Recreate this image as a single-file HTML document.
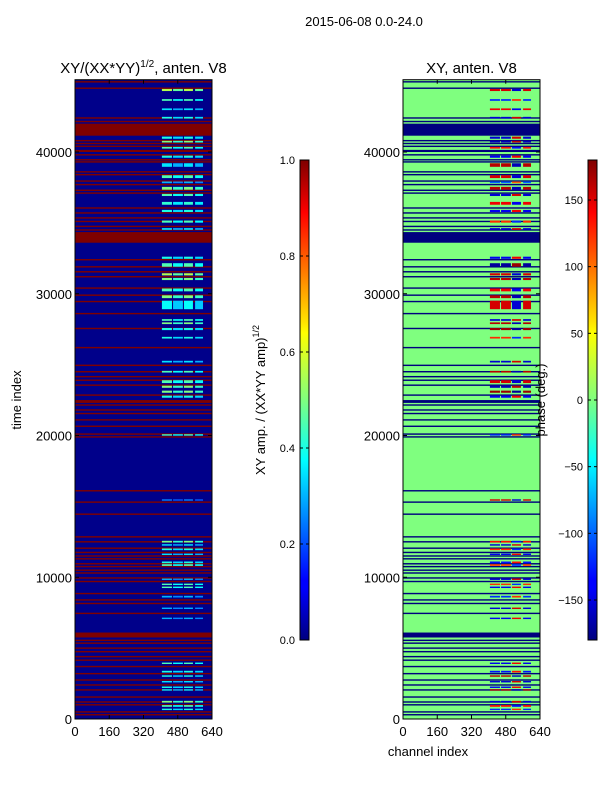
<!DOCTYPE html>
<html><head><meta charset="utf-8">
<style>
body{margin:0;background:#fff;}
svg text{font-family:"Liberation Sans",sans-serif;fill:#000;}
</style></head>
<body>
<svg id="fig" width="600" height="800" xmlns="http://www.w3.org/2000/svg" style="position:absolute;left:0;top:0">
<text x="364" y="26" text-anchor="middle" style="font-size:13px">2015-06-08 0.0-24.0</text>
<g id="left"></g>
<g id="right"></g>
<defs>
<linearGradient id="jet" x1="0" y1="1" x2="0" y2="0">
<stop offset="0" stop-color="#00007f"/><stop offset="0.11" stop-color="#0000ff"/>
<stop offset="0.125" stop-color="#0000ff"/><stop offset="0.34" stop-color="#00dcff"/>
<stop offset="0.375" stop-color="#00ffff"/><stop offset="0.5" stop-color="#7fff7f"/>
<stop offset="0.64" stop-color="#ffff00"/><stop offset="0.66" stop-color="#ffe600"/>
<stop offset="0.89" stop-color="#ff0000"/><stop offset="1" stop-color="#7f0000"/>
</linearGradient>
</defs>
<text x="0" y="0" transform="translate(265,400) rotate(-90)" text-anchor="middle" style="font-size:13px">XY amp. / (XX*YY amp)<tspan style="font-size:9px" dy="-6">1/2</tspan></text>
<text x="0" y="0" transform="translate(545,400) rotate(-90)" text-anchor="middle" style="font-size:13px">phase (deg.)</text>
<text x="0" y="0" transform="translate(21,400) rotate(-90)" text-anchor="middle" style="font-size:13px">time index</text>
<text x="428" y="756" text-anchor="middle" style="font-size:13px">channel index</text>
</svg>
<script>
const flagStart=[44900,44450,42350,42100,41150,40750,40550,40350,40000,39750,39400,39250,38550,38350,37900,37650,37250,37050,36000,35650,35300,35050,34700,34450,33600,32350,31850,31500,31150,30350,29850,29400,28550,27500,26150,24900,24450,24100,23850,23500,22800,22300,22100,21750,21500,21050,20600,20050,19850,16050,15250,14400,12800,12450,12000,11700,11450,11250,10900,10700,10450,10250,9900,9650,8800,8350,8100,7400,5750,5500,5300,4950,4700,4350,4100,3650,3150,2700,2350,2000,1500,1150,950,450,250];
const flagEnd=[45000,44550,42450,42200,42000,40850,40650,40450,40150,39850,39500,39350,38650,38450,38000,37750,37350,37150,36100,35750,35400,35150,34800,34550,34350,32450,31950,31600,31250,30450,29950,29500,28650,27600,26250,25000,24550,24200,23950,23600,22900,22500,22200,21850,21600,21150,20700,20150,19950,16150,15350,14500,12900,12550,12100,11800,11550,11350,11000,10800,10550,10350,10000,9750,8900,8450,8200,7500,6100,5600,5400,5050,4800,4450,4200,3750,3250,2800,2450,2100,1600,1250,1050,550,350];
const featT=[44375,43670,43015,42420,41010,40730,40300,39670,39080,38260,37860,37440,36970,36380,35840,35090,34570,32540,32030,31370,31040,30270,29790,29210,28150,27920,27510,26900,25210,24500,23800,23440,23090,22740,20040,15450,12510,12280,11970,11620,11050,10860,9860,9500,9290,8630,7810,7100,3930,3340,3030,2630,2240,2050,1220,920,680];
const featW=[150,120,120,120,150,120,120,150,250,200,120,200,150,200,150,150,120,150,250,150,150,200,200,600,120,120,150,120,120,120,200,150,150,150,100,100,120,100,120,100,120,120,100,100,100,120,100,100,100,120,100,100,100,100,120,120,100];
const featAmp=[0.55,0.45,0.35,0.4,0.4,0.5,0.45,0.4,0.35,0.45,0.3,0.5,0.45,0.42,0.4,0.45,0.35,0.4,0.45,0.55,0.5,0.45,0.5,0.38,0.45,0.5,0.4,0.4,0.35,0.45,0.45,0.5,0.5,0.4,0.45,0.25,0.5,0.35,0.4,0.35,0.4,0.45,0.3,0.45,0.45,0.3,0.3,0.3,0.45,0.4,0.4,0.35,0.4,0.35,0.5,0.45,0.4];
const featPhase=[150,-120,140,-150,-150,-160,130,-140,160,150,-100,160,-150,140,-140,120,-150,-140,-170,150,160,140,160,150,-150,160,170,120,-150,160,150,-160,170,-140,-120,150,130,-150,120,-140,-130,110,-150,120,-140,-120,-150,-140,-140,-130,160,-150,-140,160,-150,130,-120];
const chanBlocksStart=[406,458,509,561];
const chanBlocksEnd=[453,504,551,598];
const xTicks=[0,160,320,480,640];
const yTicks=[0,10000,20000,30000,40000];
const ampTicks=[0.0,0.2,0.4,0.6,0.8,1.0];
const phaseTicks=[-150,-100,-50,0,50,100,150];

const NS="http://www.w3.org/2000/svg";
function mk(tag,attrs,parent){const e=document.createElementNS(NS,tag);for(const k in attrs)e.setAttribute(k,attrs[k]);parent.appendChild(e);return e;}
function jet(v){v=Math.max(0,Math.min(1,v));
 const r=Math.max(0,Math.min(1,1.5-Math.abs(4*v-3))),g=Math.max(0,Math.min(1,1.5-Math.abs(4*v-2))),b=Math.max(0,Math.min(1,1.5-Math.abs(4*v-1)));
 return `rgb(${Math.round(r*255)},${Math.round(g*255)},${Math.round(b*255)})`;}
const T0=719,TSC=567/40000,TMAX=45100;
function yS(t){return T0-t*TSC;}
function drawPanel(g,x0,bg,flagColor,featColor,title){
 const w=137;
 const xS=c=>x0+c/640*w;
 let r=mk('rect',{x:x0,y:yS(TMAX),width:w,height:yS(0)-yS(TMAX),fill:bg},g);
 
 
 for(let i=0;i<flagStart.length;i++){
  r=mk('rect',{x:x0,y:yS(flagEnd[i]),width:w,height:Math.max(1,(flagEnd[i]-flagStart[i])*TSC),fill:flagColor},g);
  
  
 }
 for(let i=0;i<featT.length;i++){
  for(let b=0;b<chanBlocksStart.length;b++){
   r=mk('rect',{x:xS(chanBlocksStart[b]),y:yS(featT[i]+featW[i]/2),width:xS(chanBlocksEnd[b])-xS(chanBlocksStart[b]),height:Math.max(1,featW[i]*TSC),fill:featColor(i,b)},g);
   
   
  }
 }
 r=mk('rect',{x:x0,y:yS(TMAX),width:w,height:yS(0)-yS(TMAX),fill:'none',stroke:'#000','stroke-width':1},g);
 
 
 xTicks.forEach(c=>{mk('line',{x1:xS(c),x2:xS(c),y1:yS(0),y2:yS(0)-4,stroke:'#000'},g);
  mk('line',{x1:xS(c),x2:xS(c),y1:yS(TMAX),y2:yS(TMAX)+4,stroke:'#000'},g);
  const t=mk('text',{x:xS(c),y:yS(0)+17,'text-anchor':'middle',style:'font-size:13px'},g);t.textContent=c;
  
  });
 yTicks.forEach(v=>{mk('line',{x1:x0,x2:x0+4,y1:yS(v),y2:yS(v),stroke:'#000'},g);
  mk('line',{x1:x0+w,x2:x0+w-4,y1:yS(v),y2:yS(v),stroke:'#000'},g);
  const t=mk('text',{x:x0-3,y:yS(v)+5,'text-anchor':'end',style:'font-size:13px'},g);t.textContent=v;
  
  });
 const tt=mk('text',{x:x0+w/2,y:73,'text-anchor':'middle',style:'font-size:15px'},g);tt.innerHTML=title;
 
 
}
const L=document.getElementById('left'),R=document.getElementById('right');
drawPanel(L,75,'#00008a','#7f0000',(i,b)=>jet(featAmp[i]*(b%2?0.85:1)),'XY/(XX*YY)<tspan style="font-size:10px" dy="-6">1/2</tspan><tspan dy="6">, anten. V8</tspan>');
drawPanel(R,403,'#7fff7f','#00007f',(i,b)=>jet((featPhase[i]*(b==2?-1:1)+180)/360),'XY, anten. V8');
function colorbar(x,vals,vmin,vmax,fmt){
 const g=mk('g',{},document.getElementById('fig'));
 
 
 mk('rect',{x:x,y:160,width:9,height:480,fill:'url(#jet)',stroke:'#000'},g);
 vals.forEach(v=>{const y=640-(v-vmin)/(vmax-vmin)*480;
  mk('line',{x1:x,x2:x+3,y1:y,y2:y,stroke:'#000'},g);mk('line',{x1:x+9,x2:x+6,y1:y,y2:y,stroke:'#000'},g);
  const t=mk('text',{x:x-5,y:y+4,'text-anchor':'end',style:'font-size:11px'},g);t.textContent=fmt(v);
  
  });
}
colorbar(300,ampTicks,0,1,v=>v.toFixed(1));
colorbar(588,phaseTicks,-180,180,v=>v<0?'\u2212'+(-v):String(v));
</script>
</body></html>
